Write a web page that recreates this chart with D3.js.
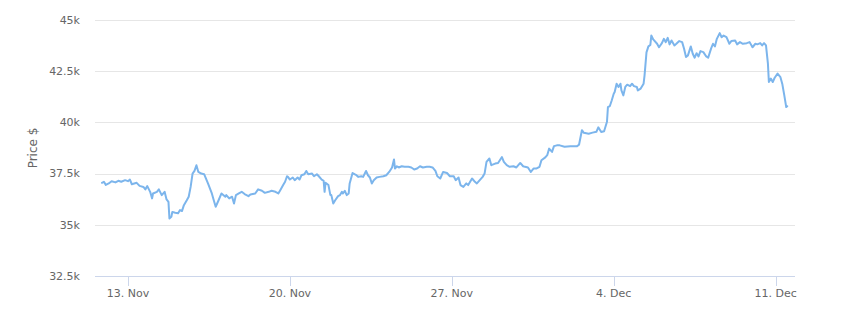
<!DOCTYPE html>
<html><head><meta charset="utf-8">
<script src="https://cdn.jsdelivr.net/npm/d3@7"></script>
<style>
html,body{margin:0;padding:0;background:#fff;}
text{font-family:"DejaVu Sans",Verdana,sans-serif;}
</style></head>
<body>
<svg id="chart" width="850" height="321"></svg>
<script>
const dates = [
"2023-11-11 21:00","2023-11-11 23:00","2023-11-12 01:00","2023-11-12 04:00","2023-11-12 07:00","2023-11-12 11:00","2023-11-12 14:00","2023-11-12 17:00","2023-11-12 21:00",
"2023-11-13 00:00","2023-11-13 02:00","2023-11-13 04:00","2023-11-13 09:00","2023-11-13 12:00","2023-11-13 16:00","2023-11-13 18:00","2023-11-13 20:00","2023-11-13 23:00",
"2023-11-14 01:00","2023-11-14 02:00","2023-11-14 06:00","2023-11-14 08:00","2023-11-14 11:00","2023-11-14 14:00","2023-11-14 16:00","2023-11-14 18:00","2023-11-14 19:00","2023-11-14 21:00","2023-11-14 22:00",
"2023-11-15 01:00","2023-11-15 04:00","2023-11-15 06:00","2023-11-15 08:00","2023-11-15 10:00","2023-11-15 13:00","2023-11-15 15:00","2023-11-15 17:00","2023-11-15 19:00","2023-11-15 21:00","2023-11-15 23:00",
"2023-11-16 01:00","2023-11-16 04:00","2023-11-16 07:00","2023-11-16 11:00","2023-11-16 15:00","2023-11-16 17:00","2023-11-16 19:00","2023-11-16 22:00",
"2023-11-17 01:00","2023-11-17 05:00","2023-11-17 06:00","2023-11-17 09:00","2023-11-17 12:00","2023-11-17 14:00","2023-11-17 16:00","2023-11-17 19:00","2023-11-17 22:00",
"2023-11-18 01:00","2023-11-18 05:00","2023-11-18 07:00","2023-11-18 12:00","2023-11-18 15:00","2023-11-18 19:00","2023-11-18 22:00",
"2023-11-19 02:00","2023-11-19 05:00","2023-11-19 09:00","2023-11-19 12:00","2023-11-19 14:00","2023-11-19 17:00","2023-11-19 19:00","2023-11-19 21:00","2023-11-19 22:00",
"2023-11-20 00:00","2023-11-20 03:00","2023-11-20 05:00","2023-11-20 08:00","2023-11-20 10:00","2023-11-20 12:00","2023-11-20 15:00","2023-11-20 17:00","2023-11-20 19:00","2023-11-20 23:00",
"2023-11-21 01:00","2023-11-21 04:00","2023-11-21 06:00","2023-11-21 09:00","2023-11-21 11:00","2023-11-21 12:00","2023-11-21 13:00","2023-11-21 16:00","2023-11-21 18:00","2023-11-21 19:00","2023-11-21 21:00","2023-11-21 23:00",
"2023-11-22 02:00","2023-11-22 04:00","2023-11-22 06:00","2023-11-22 07:00","2023-11-22 09:00","2023-11-22 11:00","2023-11-22 13:00","2023-11-22 14:00","2023-11-22 17:00","2023-11-22 19:00","2023-11-22 21:00","2023-11-22 23:00",
"2023-11-23 02:00","2023-11-23 04:00","2023-11-23 07:00","2023-11-23 09:00","2023-11-23 11:00","2023-11-23 13:00","2023-11-23 15:00","2023-11-23 18:00","2023-11-23 21:00",
"2023-11-24 01:00","2023-11-24 04:00","2023-11-24 07:00","2023-11-24 10:00","2023-11-24 12:00","2023-11-24 13:00","2023-11-24 15:00","2023-11-24 17:00","2023-11-24 20:00","2023-11-24 23:00",
"2023-11-25 03:00","2023-11-25 06:00","2023-11-25 09:00","2023-11-25 12:00","2023-11-25 15:00","2023-11-25 18:00","2023-11-25 22:00",
"2023-11-26 01:00","2023-11-26 04:00","2023-11-26 07:00","2023-11-26 09:00","2023-11-26 12:00","2023-11-26 15:00","2023-11-26 19:00","2023-11-26 22:00",
"2023-11-27 02:00","2023-11-27 04:00","2023-11-27 07:00","2023-11-27 09:00","2023-11-27 12:00","2023-11-27 15:00","2023-11-27 17:00","2023-11-27 21:00",
"2023-11-28 00:00","2023-11-28 02:00","2023-11-28 05:00","2023-11-28 08:00","2023-11-28 10:00","2023-11-28 12:00","2023-11-28 15:00","2023-11-28 17:00","2023-11-28 21:00",
"2023-11-29 00:00","2023-11-29 04:00","2023-11-29 06:00","2023-11-29 09:00","2023-11-29 12:00","2023-11-29 16:00","2023-11-29 19:00","2023-11-29 23:00",
"2023-11-30 02:00","2023-11-30 04:00","2023-11-30 07:00","2023-11-30 10:00","2023-11-30 13:00","2023-11-30 16:00","2023-11-30 19:00","2023-11-30 21:00",
"2023-12-01 01:00","2023-12-01 03:00","2023-12-01 05:00","2023-12-01 08:00","2023-12-01 10:00","2023-12-01 13:00","2023-12-01 16:00","2023-12-01 21:00",
"2023-12-02 03:00","2023-12-02 10:00","2023-12-02 12:00","2023-12-02 15:00","2023-12-02 17:00","2023-12-02 22:00",
"2023-12-03 02:00","2023-12-03 06:00","2023-12-03 08:00","2023-12-03 11:00","2023-12-03 14:00","2023-12-03 17:00","2023-12-03 18:00","2023-12-03 20:00","2023-12-03 22:00",
"2023-12-04 00:00","2023-12-04 01:00","2023-12-04 03:00","2023-12-04 05:00","2023-12-04 07:00","2023-12-04 08:00","2023-12-04 10:00","2023-12-04 12:00","2023-12-04 14:00","2023-12-04 17:00","2023-12-04 19:00","2023-12-04 21:00",
"2023-12-05 00:00","2023-12-05 01:00","2023-12-05 04:00","2023-12-05 07:00","2023-12-05 08:00","2023-12-05 10:00","2023-12-05 12:00","2023-12-05 14:00","2023-12-05 15:00","2023-12-05 17:00","2023-12-05 21:00","2023-12-05 23:00",
"2023-12-06 02:00","2023-12-06 04:00","2023-12-06 06:00","2023-12-06 08:00","2023-12-06 10:00","2023-12-06 12:00","2023-12-06 15:00","2023-12-06 17:00","2023-12-06 20:00","2023-12-06 23:00",
"2023-12-07 01:00","2023-12-07 03:00","2023-12-07 05:00","2023-12-07 08:00","2023-12-07 10:00","2023-12-07 12:00","2023-12-07 14:00","2023-12-07 16:00","2023-12-07 18:00","2023-12-07 21:00",
"2023-12-08 00:00","2023-12-08 02:00","2023-12-08 05:00","2023-12-08 07:00","2023-12-08 09:00","2023-12-08 11:00","2023-12-08 14:00","2023-12-08 16:00","2023-12-08 18:00","2023-12-08 21:00",
"2023-12-09 00:00","2023-12-09 02:00","2023-12-09 06:00","2023-12-09 08:00","2023-12-09 11:00","2023-12-09 14:00","2023-12-09 18:00","2023-12-09 21:00",
"2023-12-10 00:00","2023-12-10 03:00","2023-12-10 05:00","2023-12-10 08:00","2023-12-10 10:00","2023-12-10 12:00","2023-12-10 14:00","2023-12-10 16:00","2023-12-10 17:00","2023-12-10 19:00","2023-12-10 21:00","2023-12-10 23:00",
"2023-12-11 02:00","2023-12-11 05:00","2023-12-11 07:00","2023-12-11 09:00","2023-12-11 11:00","2023-12-11 12:00"
];
const prices = [
37050,37100,36950,37020,37130,37070,37150,37100,37180,
37130,37210,36980,37050,36900,36850,36730,36890,36610,
36290,36530,36610,36730,36450,36610,36240,36120,35310,35390,35630,
35590,35560,35720,35670,35960,36200,36370,36850,37500,37630,37910,
37580,37500,37470,37020,36530,36200,35880,36200,
36530,36370,36450,36290,36370,36040,36450,36530,36610,
36500,36400,36480,36530,36730,36660,36560,
36610,36660,36610,36530,36690,36940,37100,37370,37340,
37210,37310,37180,37310,37210,37420,37470,37630,37470,37500,
37370,37470,37370,37210,37150,36610,37050,36940,36450,36450,36040,36200,
36400,36450,36610,36530,36660,36450,36530,37020,37530,37470,37420,37340,
37370,37340,37630,37420,37310,37020,37180,37310,37340,
37370,37420,37580,37800,38190,37750,37860,37800,37860,37830,
37830,37800,37700,37750,37860,37800,37830,
37830,37800,37630,37370,37260,37580,37530,37370,
37370,37180,37310,36940,36850,37020,36940,37260,
37100,37020,37180,37340,37500,38070,38240,37910,37990,
38020,38310,38070,37910,37830,37860,37800,38020,
37860,37830,37800,37580,37750,37750,37830,38150,
38290,38400,38720,38560,38840,38880,38880,38810,
38840,38840,38910,39620,39490,39450,
39500,39540,39760,39530,39570,40030,40750,40800,41080,
41400,41480,41890,41730,41890,41560,41320,41730,41840,41770,41890,41770,
41730,41560,41650,41890,42300,43420,43710,43780,44240,44050,43840,43670,
43870,44080,43920,44130,43810,44000,43760,43840,43970,43920,
43600,43190,43270,43710,43350,43160,43380,43220,43480,43430,
43220,43160,43600,43840,43710,44080,44360,44160,44240,44160,
43840,43970,44000,43810,43920,43840,43870,43920,
43670,43840,43810,43870,43760,43870,43760,42870,41970,42140,41970,42180,
42380,42210,41860,41320,40750,40790
];
const yTickValues = [32500, 35000, 37500, 40000, 42500, 45000];
const yTickLabels = ["32.5k", "35k", "37.5k", "40k", "42.5k", "45k"];
const xTickDates = ["2023-11-13 00:00", "2023-11-20 00:00", "2023-11-27 00:00", "2023-12-04 00:00", "2023-12-11 00:00"];
const xTickLabels = ["13. Nov", "20. Nov", "27. Nov", "4. Dec", "11. Dec"];
const xDomain = ["2023-11-11 13:46", "2023-12-11 20:06"];
const yTitle = "Price $";

(function () {
const parse = d3.utcParse("%Y-%m-%d %H:%M");
const data = dates.map((d, i) => ({ t: parse(d), v: prices[i] }));

const pL = 95, pR = 795, pT = 20, pB = 276;
const svg = d3.select("#chart");
svg.append("rect").attr("width", 850).attr("height", 321).attr("fill", "#fff");

const x = d3.scaleUtc().domain(xDomain.map(parse)).range([pL, pR]);
const y = d3.scaleLinear().domain([32500, 45000]).range([pB, pT]);

svg.append("g").selectAll("line").data(yTickValues).join("line")
  .attr("x1", pL).attr("x2", pR)
  .attr("y1", d => Math.round(y(d)) + 0.5).attr("y2", d => Math.round(y(d)) + 0.5)
  .attr("stroke", "#e6e6e6").attr("stroke-width", 1);

svg.append("g").selectAll("text").data(yTickValues).join("text")
  .attr("x", 80).attr("y", d => y(d)).attr("dy", "0.35em")
  .attr("text-anchor", "end").attr("font-size", 11).attr("fill", "#666666")
  .text((d, i) => yTickLabels[i]);

svg.append("text")
  .attr("transform", `translate(37,${(pT + pB) / 2}) rotate(-90)`)
  .attr("text-anchor", "middle").attr("font-size", 12).attr("fill", "#666666")
  .text(yTitle);

svg.append("line").attr("x1", pL).attr("x2", pR)
  .attr("y1", pB + 0.5).attr("y2", pB + 0.5)
  .attr("stroke", "#ccd6eb").attr("stroke-width", 1);

const xt = xTickDates.map(parse);
svg.append("g").selectAll("line").data(xt).join("line")
  .attr("x1", d => Math.round(x(d)) + 0.5).attr("x2", d => Math.round(x(d)) + 0.5)
  .attr("y1", pB).attr("y2", pB + 10)
  .attr("stroke", "#ccd6eb").attr("stroke-width", 1);
svg.append("g").selectAll("text").data(xt).join("text")
  .attr("x", d => x(d)).attr("y", pB + 21)
  .attr("text-anchor", "middle").attr("font-size", 11).attr("fill", "#666666")
  .text((d, i) => xTickLabels[i]);

const line = d3.line().x(d => x(d.t)).y(d => y(d.v));
svg.append("path").datum(data)
  .attr("d", line).attr("fill", "none")
  .attr("stroke", "#7cb5ec").attr("stroke-width", 2)
  .attr("stroke-linejoin", "round").attr("stroke-linecap", "round");
})();
</script>
</body></html>
